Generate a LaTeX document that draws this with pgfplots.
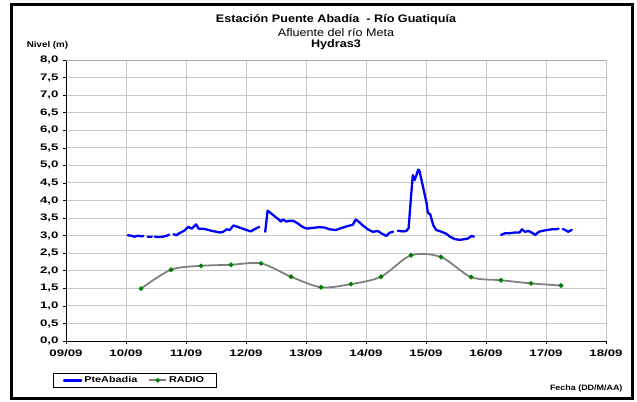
\documentclass[border=0pt]{standalone}
\usepackage{pgfplots}
\pgfplotsset{compat=1.18}
\usepackage{fontspec}
\setmainfont[FakeStretch=1.15]{Liberation Sans}
\newfontfamily\tickfont[FakeStretch=1.4]{Liberation Sans}
\newfontfamily\legfont[FakeStretch=1.28]{Liberation Sans}
\definecolor{gridgray}{RGB}{200,200,200}
\definecolor{radiogray}{RGB}{128,128,128}
\definecolor{radiogreen}{RGB}{0,128,0}
\begin{document}
\begin{tikzpicture}
% page size and outer frame (1 px = 1 bp)
\path (-66bp,-61bp) rectangle (571bp,341bp);
\begin{axis}[
  at={(0,0)}, anchor=south west,
  scale only axis,
  width=540bp, height=281bp,
  xmin=9, xmax=18,
  ymin=0, ymax=8,
  xtick={9,10,...,18},
  xticklabels={09/09,10/09,11/09,12/09,13/09,14/09,15/09,16/09,17/09,18/09},
  ytick={0,0.5,...,8},
  yticklabel style={xshift=-1bp, /pgf/number format/.cd, fixed, fixed zerofill, precision=1, use comma, assume math mode=true},
  ticklabel style={font=\tickfont\fontsize{9.5}{10}\selectfont\bfseries},
  xticklabel style={yshift=-2.5bp},
  axis x line*=bottom, axis y line*=left,
  axis line style={black, line width=0.8bp, -},
  tick align=outside, major tick length=3bp,
  tick style={black, line width=0.6bp},
  grid=major,
  grid style={gridgray, line width=0.9bp},
  unbounded coords=jump,
  legend columns=2,
  legend cell align=left,
  legend style={at={(axis description cs:-0.0246,-0.113)}, anchor=north west,
    draw=black, line width=0.6bp, font=\legfont\fontsize{8.5}{9}\selectfont\bfseries,
    inner xsep=10bp, inner ysep=1.5bp,
    nodes={inner xsep=2bp},
    /tikz/every even column/.append style={column sep=9bp}},
  legend image code/.code={
    \draw[#1] (0cm,0cm) -- (17bp,0cm);
    \draw[#1, only marks] plot coordinates {(8.5bp,0cm)};},
]
\draw[gray!70, line width=0.8bp] (rel axis cs:0,1) -- (rel axis cs:1,1) -- (rel axis cs:1,0);

% PteAbadia
\addplot[blue, line width=2.3bp, line join=round, line cap=round] coordinates {
(10.03,3.01) (10.08,3.00) (10.14,2.97) (10.20,3.00) (10.25,2.98) (10.29,2.99)
(10.32,nan)
(10.36,2.97) (10.43,2.97)
(10.45,nan)
(10.48,2.97) (10.55,2.96) (10.62,2.97) (10.70,3.01) (10.72,3.03)
(10.75,nan)
(10.79,3.04) (10.84,3.01) (10.89,3.07) (10.97,3.14) (11.04,3.25) (11.10,3.20)
(11.17,3.32) (11.21,3.20) (11.31,3.19) (11.42,3.14) (11.56,3.09) (11.61,3.10)
(11.68,3.18) (11.73,3.16) (11.79,3.29) (11.86,3.25) (11.94,3.20) (12.01,3.16)
(12.08,3.12) (12.14,3.18) (12.22,3.25)
(12.27,nan)
(12.32,3.11) (12.36,3.71) (12.42,3.63) (12.50,3.52) (12.56,3.44) (12.58,3.40)
(12.62,3.46) (12.67,3.40) (12.72,3.42) (12.79,3.42) (12.86,3.35) (12.94,3.25)
(13.01,3.20) (13.11,3.22) (13.22,3.24) (13.31,3.23) (13.39,3.18) (13.50,3.16)
(13.58,3.21) (13.69,3.27) (13.78,3.31) (13.83,3.46) (13.89,3.38) (13.94,3.30)
(14.03,3.18) (14.11,3.11) (14.20,3.13) (14.25,3.07) (14.34,2.99) (14.39,3.08)
(14.45,3.11)
(14.49,nan)
(14.53,3.14) (14.61,3.12) (14.67,3.13) (14.71,3.21) (14.75,4.10) (14.78,4.72)
(14.81,4.58) (14.84,4.72) (14.87,4.88) (14.89,4.85) (14.95,4.39) (15.01,3.92)
(15.03,3.65) (15.07,3.61) (15.12,3.30) (15.17,3.16) (15.26,3.11) (15.34,3.05)
(15.40,2.97) (15.48,2.90) (15.56,2.88) (15.65,2.90) (15.70,2.92) (15.76,2.99)
(15.80,2.97)
(16.00,nan)
(16.25,3.02) (16.32,3.07) (16.40,3.07) (16.49,3.09) (16.56,3.09) (16.60,3.18)
(16.65,3.11) (16.71,3.13) (16.77,3.08) (16.82,3.02) (16.88,3.11) (16.95,3.14)
(17.02,3.16) (17.10,3.18) (17.16,3.18) (17.21,3.20)
(17.25,nan)
(17.28,3.19) (17.32,3.16) (17.37,3.11) (17.43,3.16)
};
\addlegendentry{PteAbadia}

% RADIO
\addplot[radiogray, line width=1.8bp, smooth, tension=0.5,
  mark=*, mark size=1.3bp, mark options={radiogreen, draw=radiogreen, fill=radiogreen}] coordinates {
(10.25,1.49) (10.75,2.03) (11.25,2.14) (11.75,2.17) (12.25,2.21) (12.75,1.83)
(13.25,1.53) (13.75,1.62) (14.25,1.83) (14.75,2.44) (15.25,2.39) (15.75,1.82)
(16.25,1.73) (16.75,1.64) (17.25,1.58)
};
\addlegendentry{RADIO}
\end{axis}

% titles and labels
\node[font=\fontsize{11}{12}\selectfont\bfseries] at (270bp,321bp) {Estación Puente Abadía \ - Río Guatiquía};
\node[font=\fontsize{11}{12}\selectfont] at (270bp,308.5bp) {Afluente del río Meta};
\node[font=\fontsize{11}{12}\selectfont\bfseries] at (270bp,296bp) {Hydras3};
\node[font=\fontsize{8.5}{9}\selectfont\bfseries] at (-18.5bp,296bp) {Nivel (m)};
\node[font=\fontsize{7.8}{9}\selectfont\bfseries, anchor=east] at (560bp,-47bp) {Fecha (DD/M/AA)};

% outer frame
\draw[black, line width=3.5bp] (-54.5bp,-57.5bp) rectangle (566.5bp,336.5bp);
\end{tikzpicture}
\end{document}
